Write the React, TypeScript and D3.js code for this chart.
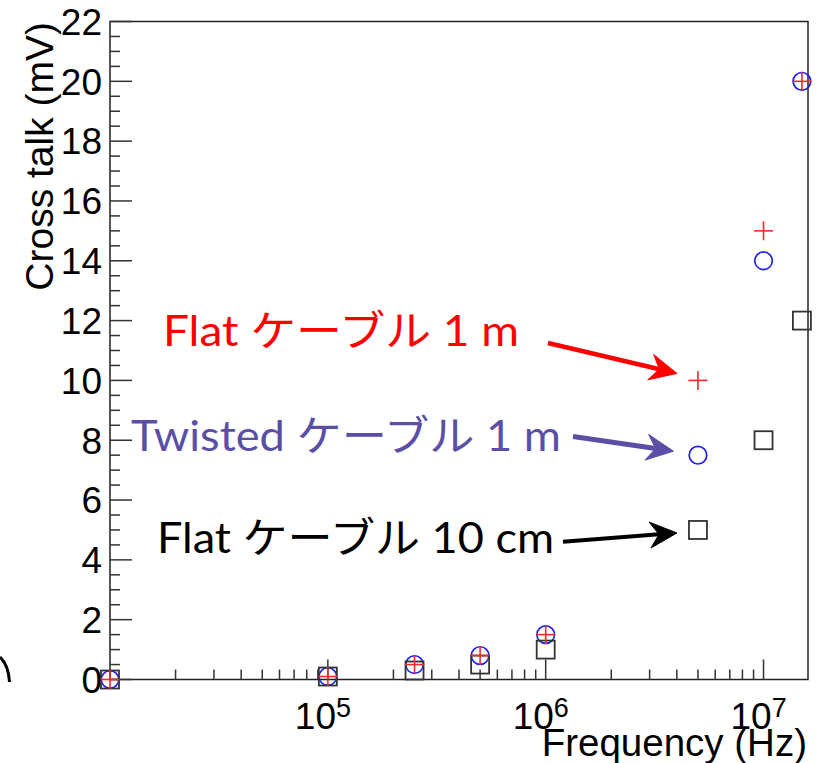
import React from "react";
import * as d3 from "d3";

// Measured cross talk vs. signal frequency for three cable configurations
const frequencies = [1e4, 1e5, 2.5e5, 5e5, 1e6, 5e6, 1e7, 1.5e7];
const flat1m = [0, 0.1, 0.5, 0.8, 1.5, 10, 15, 20];
const twisted1m = [0, 0.1, 0.5, 0.8, 1.5, 7.5, 14, 20];
const flat10cm = [0, 0.1, 0.3, 0.5, 1.0, 5, 8, 12];

const yMajorTicks = [0, 2, 4, 6, 8, 10, 12, 14, 16, 18, 20, 22];
const xLabelExponents = [5, 6, 7];

const annotationLabels = ["Flat ケーブル 1 m", "Twisted ケーブル 1 m", "Flat ケーブル 10 cm"];

const W = 821;
const H = 763;
const frame = { left: 110, right: 808, top: 21.5, bottom: 679.5 };

const x = d3.scaleLog().domain([1e4, 1.6e7]).range([frame.left, frame.right]);
const y = d3.scaleLinear().domain([0, 22]).range([frame.bottom, frame.top]);

const axisFont = "'Liberation Sans', Arial, Helvetica, sans-serif";
const noteFont = "Lato, 'Noto Sans CJK JP', sans-serif";

function arrowPath(x0: number, y0: number, x1: number, y1: number) {
  const dx = x1 - x0;
  const dy = y1 - y0;
  const len = Math.hypot(dx, dy);
  const ux = dx / len;
  const uy = dy / len;
  const nx = -uy;
  const ny = ux;
  const back = 27;
  const half = 13;
  const notch = 18;
  const wing1 = [x1 - ux * back + nx * half, y1 - uy * back + ny * half];
  const wing2 = [x1 - ux * back - nx * half, y1 - uy * back - ny * half];
  const mid = [x1 - ux * notch, y1 - uy * notch];
  return {
    shaft: { x1: x0, y1: y0, x2: mid[0], y2: mid[1] },
    head: `M${x1},${y1}L${wing1[0]},${wing1[1]}L${mid[0]},${mid[1]}L${wing2[0]},${wing2[1]}Z`,
  };
}

export default function App() {
  // minor log ticks
  const xMinor: number[] = [];
  for (let e = 4; e <= 7; e++) {
    for (let k = 2; k <= 9; k++) {
      const v = k * Math.pow(10, e);
      if (v <= 1.6e7) xMinor.push(v);
    }
  }
  const xMajor = [1e5, 1e6, 1e7];
  const yMinor = d3.range(0, 22.01, 0.5).filter((v) => Math.abs(v % 2) > 1e-6);

  const xi = frequencies.map((f) => x(f));
  const refIdx = 5; // 5 MHz point that the notes point at

  const notes = [
    {
      text: annotationLabels[0],
      color: "#ff0000",
      tx: 163,
      ty: 345.7,
      len: 356,
      from: [548, 343],
      to: [xi[refIdx] - 21, y(flat1m[refIdx]) - 7],
      sw: 4.5,
    },
    {
      text: annotationLabels[1],
      color: "#5b4fa5",
      tx: 131,
      ty: 450.7,
      len: 430,
      from: [573, 436.5],
      to: [xi[refIdx] - 24.5, y(twisted1m[refIdx]) - 4],
      sw: 5,
    },
    {
      text: annotationLabels[2],
      color: "#000000",
      tx: 157,
      ty: 552.7,
      len: 397,
      from: [563, 541.7],
      to: [xi[refIdx] - 21, y(flat10cm[refIdx]) + 3],
      sw: 4,
    },
  ];

  return (
    <svg
      width={W}
      height={H}
      viewBox={`0 0 ${W} ${H}`}
      style={{ position: "absolute", left: 0, top: 0, background: "#fff" }}
    >
      <rect x={0} y={0} width={W} height={H} fill="#fff" />

      {/* frame */}
      <rect
        x={frame.left}
        y={frame.top}
        width={frame.right - frame.left}
        height={frame.bottom - frame.top}
        fill="none"
        stroke="#222"
        strokeWidth={1.5}
      />

      {/* y ticks */}
      {yMajorTicks.map((v) => (
        <line key={`ym${v}`} x1={frame.left} x2={frame.left + 22} y1={y(v)} y2={y(v)} stroke="#333" strokeWidth={1.5} />
      ))}
      {yMinor.map((v) => (
        <line key={`yn${v}`} x1={frame.left} x2={frame.left + 10} y1={y(v)} y2={y(v)} stroke="#333" strokeWidth={1.5} />
      ))}
      {yMajorTicks.map((v) => (
        <text
          key={`yl${v}`}
          x={102}
          y={y(v)}
          dy="0.36em"
          textAnchor="end"
          fontFamily={axisFont}
          fontSize={37}
          fill="#000"
        >
          {v}
        </text>
      ))}

      {/* x ticks */}
      {xMajor.map((v) => (
        <line key={`xm${v}`} x1={x(v)} x2={x(v)} y1={frame.bottom} y2={frame.bottom - 20} stroke="#333" strokeWidth={1.5} />
      ))}
      {xMinor.map((v) => (
        <line key={`xn${v}`} x1={x(v)} x2={x(v)} y1={frame.bottom} y2={frame.bottom - 10} stroke="#333" strokeWidth={1.5} />
      ))}
      {xLabelExponents.map((e) => (
        <text key={`xl${e}`} x={x(Math.pow(10, e)) - 33} y={729} fontFamily={axisFont} fontSize={37} fill="#000">
          <tspan>10</tspan>
          <tspan dy={-12} fontSize={27}>
            {e}
          </tspan>
        </text>
      ))}

      {/* axis titles */}
      <text x={807} y={756} textAnchor="end" fontFamily={axisFont} fontSize={38.5} fill="#000">
        Frequency (Hz)
      </text>
      <text
        transform={`translate(53,22) rotate(-90)`}
        textAnchor="end"
        fontFamily={axisFont}
        fontSize={39}
        fill="#000"
      >
        Cross talk (mV)
      </text>

      {/* markers: circles, squares, crosses */}
      {twisted1m.map((v, i) => (
        <circle key={`c${i}`} cx={xi[i]} cy={y(v)} r={8.8} fill="none" stroke="#2020f0" strokeWidth={1.7} />
      ))}
      {flat10cm.map((v, i) => (
        <rect
          key={`s${i}`}
          x={xi[i] - 9}
          y={y(v) - 9}
          width={18}
          height={18}
          fill="none"
          stroke="#333"
          strokeWidth={1.8}
        />
      ))}
      {flat1m.map((v, i) => (
        <g key={`p${i}`} stroke="#ee2a2a" strokeWidth={1.6}>
          <line x1={xi[i] - 9.5} x2={xi[i] + 9.5} y1={y(v)} y2={y(v)} />
          <line x1={xi[i]} x2={xi[i]} y1={y(v) - 9.5} y2={y(v) + 9.5} />
        </g>
      ))}

      {/* notes with arrows */}
      {notes.map((n, i) => {
        const a = arrowPath(n.from[0], n.from[1], n.to[0], n.to[1]);
        return (
          <g key={`n${i}`}>
            <text
              x={n.tx}
              y={n.ty}
              fontFamily={noteFont}
              fontSize={42}
              fill={n.color}
              textLength={n.len}
              lengthAdjust="spacingAndGlyphs"
            >
              {n.text}
            </text>
            <line {...a.shaft} stroke={n.color} strokeWidth={n.sw} />
            <path d={a.head} fill={n.color} stroke={n.color} strokeWidth={1} strokeLinejoin="miter" />
          </g>
        );
      })}

      {/* partial glyph at the left edge */}
      <path d="M0,657 Q8.5,665 9.5,682" fill="none" stroke="#000" strokeWidth={3} />
    </svg>
  );
}
